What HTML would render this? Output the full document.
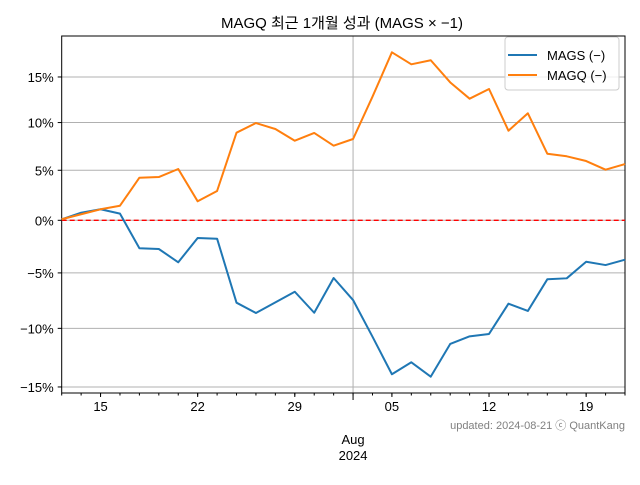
<!DOCTYPE html>
<html><head><meta charset="utf-8"><style>
body{margin:0;background:#fff}
svg{font-family:"Liberation Sans","Noto Sans CJK KR",sans-serif}
</style></head><body>
<svg id="c" width="640" height="480" xmlns="http://www.w3.org/2000/svg">
<text x="342" y="28" text-anchor="middle" font-size="15" fill="#000">MAGQ 최근 1개월 성과 (MAGS × −1)</text>
<g id="grid"></g><g id="axes"></g><g id="series"></g>
<text x="625" y="429" text-anchor="end" font-size="11" fill="#808080">updated: 2024-08-21 ⓒ QuantKang</text>
<g>
<rect x="505" y="37" width="114" height="53" rx="3" fill="#fff" fill-opacity="0.8" stroke="#ccc"/>
<line x1="508" y1="55" x2="537" y2="55" stroke="#1f77b4" stroke-width="2"/>
<text x="547" y="60" font-size="13">MAGS (−)</text>
<line x1="508" y1="75" x2="537" y2="75" stroke="#ff7f0e" stroke-width="2"/>
<text x="547" y="80" font-size="13">MAGQ (−)</text>
</g>
</svg>
<script>
const dayIndex=[0,1,2,3,4,5,6,7,8,9,10,11,12,13,14,15,16,17,18,19,20,21,22,23,24,25,26,27,28,29];
const magsValues=[0.1,0.74,1.08,0.65,-2.69,-2.76,-4.01,-1.71,-1.78,-7.72,-8.64,-7.69,-6.73,-8.62,-5.47,-7.48,-10.73,-13.94,-12.93,-14.14,-11.36,-10.70,-10.49,-7.81,-8.46,-5.59,-5.50,-3.96,-4.27,-3.77];
const magqValues=[0.1,0.59,1.08,1.43,4.24,4.31,5.13,1.87,2.90,8.92,9.95,9.31,8.07,8.89,7.55,8.25,12.81,17.80,16.43,16.89,14.40,12.59,13.66,9.13,11.00,6.71,6.44,5.95,5.06,5.64];
const yTicks=[15,10,5,0,-5,-10,-15];
const yTickLabels=["15%","10%","5%","0%","−5%","−10%","−15%"];
const xTickIdx=[2,7,12,17,22,27];
const xTickLabels=["15","22","29","05","12","19"];
const monthIdx=15;
const L=61.7,R=625,T=36,B=393;
const NS="http://www.w3.org/2000/svg";
function X(i){return L+i*(R-L)/29;}
function Y(v){return 220.3-1025.5*Math.log(1+v/100);}
function mk(p,tag,a){const e=document.createElementNS(NS,tag);for(const k in a)e.setAttribute(k,a[k]);p.appendChild(e);return e;}
const grid=document.getElementById('grid'),axes=document.getElementById('axes'),ser=document.getElementById('series');
yTicks.forEach((t,k)=>{
 const g=mk(grid,'line',{x1:L,x2:R,y1:Y(t),y2:Y(t),stroke:'#b0b0b0','stroke-width':1});
 
 
 mk(axes,'line',{x1:L-4,x2:L,y1:Y(t),y2:Y(t),stroke:'#000'});
 const tx=mk(axes,'text',{x:L-8,y:Y(t)+5,'text-anchor':'end','font-size':13});
 tx.textContent=yTickLabels[k];
 
 
});
const vg=mk(grid,'line',{x1:X(monthIdx),x2:X(monthIdx),y1:T,y2:B,stroke:'#b0b0b0'});


mk(axes,'rect',{x:L,y:T,width:R-L,height:B-T,fill:'none',stroke:'#000','stroke-width':1});
dayIndex.forEach(i=>mk(axes,'line',{x1:X(i),x2:X(i),y1:B,y2:B+2.5,stroke:'#000'}));
xTickIdx.forEach((i,k)=>{
 mk(axes,'line',{x1:X(i),x2:X(i),y1:B,y2:B+4,stroke:'#000'});
 const tx=mk(axes,'text',{x:X(i),y:B+18,'text-anchor':'middle','font-size':13});
 tx.textContent=xTickLabels[k];
 
 
});
mk(axes,'line',{x1:X(monthIdx),x2:X(monthIdx),y1:B,y2:B+7,stroke:'#000'});
const m1=mk(axes,'text',{x:X(monthIdx),y:B+51,'text-anchor':'middle','font-size':13});m1.textContent='Aug';


const m2=mk(axes,'text',{x:X(monthIdx),y:B+67,'text-anchor':'middle','font-size':13});m2.textContent='2024';


const z=mk(ser,'line',{x1:L,x2:R,y1:Y(0),y2:Y(0),stroke:'#ff0000','stroke-width':1.3,'stroke-dasharray':'5,3'});


[[magsValues,'#1f77b4','mags-line'],[magqValues,'#ff7f0e','magq-line']].forEach(([vals,c,n])=>{
 const p=mk(ser,'polyline',{points:vals.map((v,i)=>X(dayIndex[i])+','+Y(v)).join(' '),fill:'none',stroke:c,'stroke-width':2,'stroke-linejoin':'round'});
 
 
});
</script>
</body></html>
